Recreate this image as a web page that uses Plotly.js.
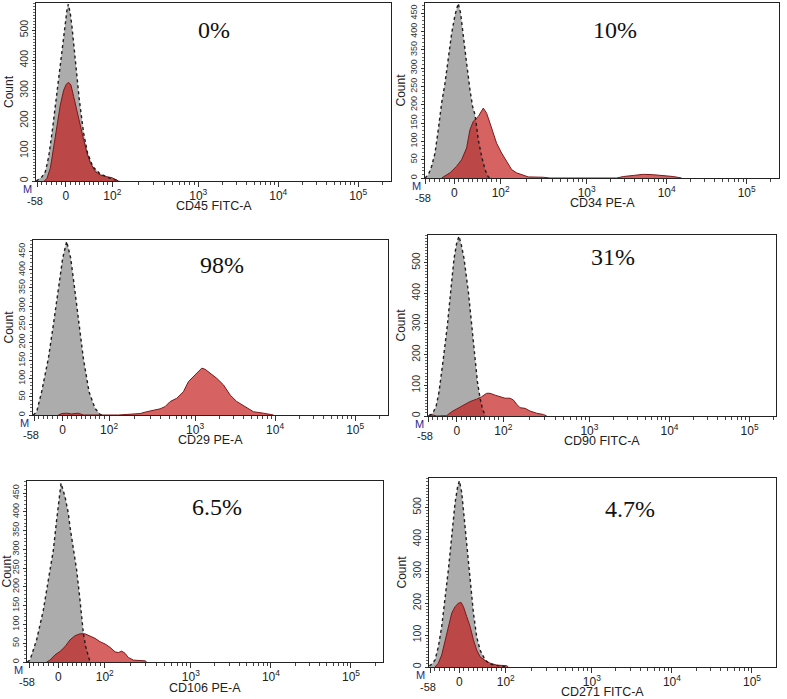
<!DOCTYPE html>
<html>
<head>
<meta charset="utf-8">
<script src="https://cdn.plot.ly/plotly-3.0.1.min.js"></script>
<style>html,body{margin:0;padding:0;background:#fff;}#chart{width:787px;height:699px;}</style>
</head>
<body>
<div id="chart"></div>
<script>
// ---- Data (x in display units of the biexponential axis: 10^3 = 3, 10^4 = 4, 10^5 = 5) ----
// Panel 1: CD45 FITC-A (0%)
const cd45IsoX = [0.975,1.004,1.046,1.088,1.129,1.171,1.221,1.267,1.317,1.358,1.375,1.4,1.421,1.45,1.475,1.513,1.567,1.617,1.683,1.775,1.9,1.983,2.017];
const cd45IsoY = [0,5,14,31,80,158,268,379,489,566,586,555,511,434,379,268,158,91,47,23,9,2,0];
const cd45X = [1.075,1.108,1.15,1.192,1.233,1.275,1.317,1.35,1.379,1.408,1.442,1.483,1.525,1.567,1.608,1.65,1.713,1.775,1.858,1.921,1.963,2.004];
const cd45Y = [0,9,42,108,175,252,301,321,327,318,280,230,180,136,94,61,31,20,14,11,5,0];
// Panel 2: CD34 PE-A (10%)
const cd34IsoX = [0.979,1.02,1.062,1.104,1.145,1.187,1.229,1.27,1.312,1.354,1.395,1.424,1.458,1.499,1.541,1.574,1.604,1.645,1.687,1.729,1.77,1.799];
const cd34IsoY = [0,9,32,68,132,205,259,323,395,445,477,450,395,314,241,195,173,105,59,23,3,0];
const cd34X = [1.187,1.291,1.374,1.437,1.499,1.541,1.583,1.645,1.708,1.749,1.791,1.833,1.874,1.937,1.999,2.062,2.124,2.187,2.27,2.458,2.541,3.374,3.458,3.583,3.708,3.833,3.958,4.083,4.187];
const cd34Y = [0,14,32,50,82,132,155,168,191,177,150,123,95,68,45,23,14,9,3,2,0,0,4,7,10,9,7,4,0];
// Panel 3: CD29 PE-A (98%)
const cd29IsoX = [0.979,1.021,1.083,1.167,1.229,1.292,1.346,1.396,1.446,1.5,1.55,1.604,1.675,1.75,1.813,1.833];
const cd29IsoY = [0,9,64,156,248,340,432,478,432,340,248,156,64,18,2,0];
const cd29X = [1.292,1.333,1.396,1.458,1.542,1.604,2.042,2.146,2.313,2.396,2.479,2.563,2.625,2.688,2.771,2.854,2.917,2.979,3.042,3.083,3.125,3.188,3.271,3.354,3.438,3.521,3.625,3.729,3.854,3.938,3.979];
const cd29Y = [0,4,5,3,5,0,0,2,4,9,14,17,23,37,46,64,92,106,119,129,126,115,101,83,55,37,23,9,5,2,0];
// Panel 4: CD90 FITC-A (31%)
const cd90IsoX = [1.001,1.042,1.084,1.122,1.176,1.226,1.267,1.309,1.342,1.371,1.401,1.434,1.488,1.53,1.572,1.601,1.634,1.667,1.705];
const cd90IsoY = [0,9,30,79,188,296,405,513,563,586,557,513,405,296,188,112,58,20,0];
const cd90X = [0.985,1.005,1.05,1.09,1.217,1.28,1.342,1.426,1.509,1.592,1.655,1.717,1.759,1.821,1.884,1.946,2.009,2.051,2.092,2.134,2.196,2.259,2.342,2.426,2.467];
const cd90Y = [0,5,3,0,1,14,23,36,47,55,63,74,74,68,63,58,58,52,38,27,25,16,9,5,0];
// Panel 5: CD106 PE-A (6.5%)
const cd106IsoX = [0.958,0.991,1.074,1.158,1.22,1.283,1.324,1.366,1.379,1.429,1.47,1.491,1.533,1.574,1.616,1.637,1.658,1.687,1.72,1.741];
const cd106IsoY = [0,5,59,138,218,298,378,467,476,440,396,360,307,245,165,121,76,41,14,0];
const cd106X = [1.199,1.241,1.304,1.366,1.429,1.491,1.554,1.616,1.679,1.741,1.804,1.866,1.929,1.991,2.054,2.095,2.137,2.179,2.22,2.283,2.366,2.429,2.449];
const cd106Y = [0,5,19,28,41,59,70,75,75,70,63,54,48,39,27,25,29,23,12,5,4,3,0];
// Panel 6: CD271 FITC-A (4.7%)
const cd271IsoX = [0.971,1.0,1.042,1.083,1.125,1.167,1.208,1.25,1.292,1.325,1.346,1.375,1.404,1.437,1.479,1.521,1.562,1.604,1.667,1.729,1.854,1.937];
const cd271IsoY = [3,9,22,64,127,211,305,410,515,567,583,546,473,378,263,169,94,53,22,9,3,0];
const cd271X = [1.042,1.083,1.125,1.167,1.208,1.25,1.292,1.333,1.367,1.396,1.437,1.479,1.521,1.562,1.604,1.667,1.729,1.812,1.937,1.958];
const cd271Y = [0,12,38,80,127,169,189,200,202,189,158,127,85,53,32,20,12,6,4,0];

const axisTitles = ['CD45 FITC-A','CD34 PE-A','CD29 PE-A','CD90 FITC-A','CD106 PE-A','CD271 FITC-A'];
const percentLabels = ['0%','10%','98%','31%','6.5%','4.7%'];
const xTickText = ['','0','10<sup>2</sup>','10<sup>3</sup>','10<sup>4</sup>','10<sup>5</sup>'];
const xTickVals = [0.99, 1.345, 1.925, 3, 4, 5];
const xMinLabel = '-58';
const yMax = [590, 478, 482, 590, 482, 592];
const yStep = [100, 50, 50, 100, 50, 100];

// ---- Layout geometry (pixels) ----
const W = 787, H = 699;
const frames = [
  {l:36, r:391, t:3, b:181, xr:[0.971,5.41], px:0.50, py:0.85, ty:25},
  {l:425, r:779, t:3, b:178, xr:[0.979,5.404], px:0.537, py:0.846, ty:25},
  {l:33, r:388, t:240, b:415, xr:[0.975,5.41], px:0.532, py:0.857, ty:25},
  {l:428, r:776, t:235, b:416, xr:[0.984,5.33], px:0.532, py:0.88, ty:25},
  {l:27, r:383, t:481, b:662, xr:[0.954,5.40], px:0.533, py:0.858, ty:26},
  {l:429, r:776, t:478, b:667, xr:[0.966,5.30], px:0.579, py:0.834, ty:25}
];

const series = [
  [cd45IsoX, cd45IsoY, cd45X, cd45Y],
  [cd34IsoX, cd34IsoY, cd34X, cd34Y],
  [cd29IsoX, cd29IsoY, cd29X, cd29Y],
  [cd90IsoX, cd90IsoY, cd90X, cd90Y],
  [cd106IsoX, cd106IsoY, cd106X, cd106Y],
  [cd271IsoX, cd271IsoY, cd271X, cd271Y]
];

// minor tick positions on the biexponential display scale
function disp(v){
  if (v < 0) return 1.345 + v/58*(1.345-0.99);
  if (v <= 100) return 1.345 + v/100*(1.925-1.345);
  if (v <= 1000) return 1.925 + Math.log10(v/100)*1.075;
  return Math.log10(v);
}
const minorVals = [];
[-50,-40,-30,-20,-10,10,20,30,40,50,60,70,80,90].forEach(v=>minorVals.push(disp(v)));
[100,1000,10000,100000].forEach(dec=>{ for(let k=2;k<=9;k++){ if(dec*k<=200000) minorVals.push(disp(dec*k)); }});

const FONT = 'Liberation Sans, Arial, sans-serif';
const TICKFONT = 'Liberation Sans Narrow, Arial Narrow, Liberation Sans, Arial, sans-serif';
const data = [];
const layout = {
  width: W, height: H,
  margin: {l:0, r:0, t:0, b:0},
  paper_bgcolor: '#fff', plot_bgcolor: '#fff',
  showlegend: false,
  annotations: []
};

frames.forEach((f, i) => {
  const n = i + 1;
  const xa = 'x' + (n === 1 ? '' : n), ya = 'y' + (n === 1 ? '' : n);
  const [gx, gy, rx, ry] = series[i];
  data.push({x: gx, y: gy, xaxis: xa, yaxis: ya, type: 'scatter', mode: 'lines',
    fill: 'tozeroy', fillcolor: '#acacac', line: {width: 0, color: 'rgba(0,0,0,0)'}, hoverinfo: 'skip'});
  data.push({x: rx, y: ry, xaxis: xa, yaxis: ya, type: 'scatter', mode: 'lines',
    fill: 'tozeroy', fillcolor: 'rgba(194,24,24,0.68)', line: {width: 1, color: '#7e1818'}, hoverinfo: 'skip'});
  data.push({x: gx, y: gy, xaxis: xa, yaxis: ya, type: 'scatter', mode: 'lines',
    line: {width: 1.4, color: '#1e1e1e', dash: 'dot'}, hoverinfo: 'skip'});

  const yticks = [];
  for (let v = 0; v <= yMax[i]; v += yStep[i]) yticks.push(v);
  const yminor = [];
  for (let v = 10; v <= yMax[i]; v += 10) if (v % yStep[i] !== 0) yminor.push(v);

  layout['xaxis' + (n === 1 ? '' : n)] = {
    domain: [f.l / W, f.r / W], anchor: ya, range: f.xr,
    tickmode: 'array', tickvals: xTickVals, ticktext: xTickText, tickangle: 0,
    ticks: 'outside', ticklen: 5, tickwidth: 1, tickcolor: '#333', ticklabelstandoff: -2,
    tickfont: {family: TICKFONT, size: 12, color: '#222'},
    minor: {tickmode: 'array', tickvals: minorVals, ticks: 'outside', ticklen: 3, tickcolor: '#444', showgrid: false},
    showline: true, mirror: true, linecolor: '#222', linewidth: 1.2,
    showgrid: false, zeroline: false, fixedrange: true
  };
  layout['yaxis' + (n === 1 ? '' : n)] = {
    domain: [1 - f.b / H, 1 - f.t / H], anchor: xa, range: [0, yMax[i]],
    tickmode: 'array', tickvals: yticks, tickangle: -90,
    ticks: 'outside', ticklen: 3, tickwidth: 1, tickcolor: '#333',
    tickfont: {family: TICKFONT, size: yStep[i] === 50 ? 9 : 10.5, color: '#333'},
    minor: {tickmode: 'array', tickvals: yminor, ticks: 'outside', ticklen: 2, tickcolor: '#666', showgrid: false},
    showline: true, mirror: true, linecolor: '#222', linewidth: 1.2,
    showgrid: false, zeroline: false, fixedrange: true,
    title: {text: 'Count', font: {family: FONT, size: 12, color: '#222'}, standoff: 1}
  };
  // x-axis title
  layout.annotations.push({
    xref: xa + ' domain', yref: ya + ' domain', x: 0.5, y: 0,
    xanchor: 'center', yanchor: 'middle', yshift: -f.ty, showarrow: false,
    text: axisTitles[i], font: {family: FONT, size: 12.5, color: '#222'}
  });
  // percentage of positive cells
  layout.annotations.push({
    xref: xa + ' domain', yref: ya + ' domain', x: f.px, y: f.py,
    xanchor: 'center', yanchor: 'middle', showarrow: false,
    text: percentLabels[i], font: {family: 'Liberation Serif, Times New Roman, serif', size: 24, color: '#111'}
  });
  // axis minimum label (-58), drawn lower than the other tick labels
  layout.annotations.push({
    xref: xa, yref: ya + ' domain', x: xTickVals[0], y: 0,
    xanchor: 'center', yanchor: 'middle', xshift: -3, yshift: -20, showarrow: false,
    text: xMinLabel, font: {family: TICKFONT, size: 11, color: '#222'}
  });
  // marker gate label
  layout.annotations.push({
    xref: xa + ' domain', yref: ya + ' domain', x: 0, y: 0,
    xanchor: 'center', yanchor: 'middle', xshift: -9, yshift: -8, showarrow: false,
    text: 'M', font: {family: FONT, size: 11, color: '#2a2a8c'}
  });
});

Plotly.newPlot('chart', data, layout, {staticPlot: true, displayModeBar: false});
</script>
</body>
</html>
